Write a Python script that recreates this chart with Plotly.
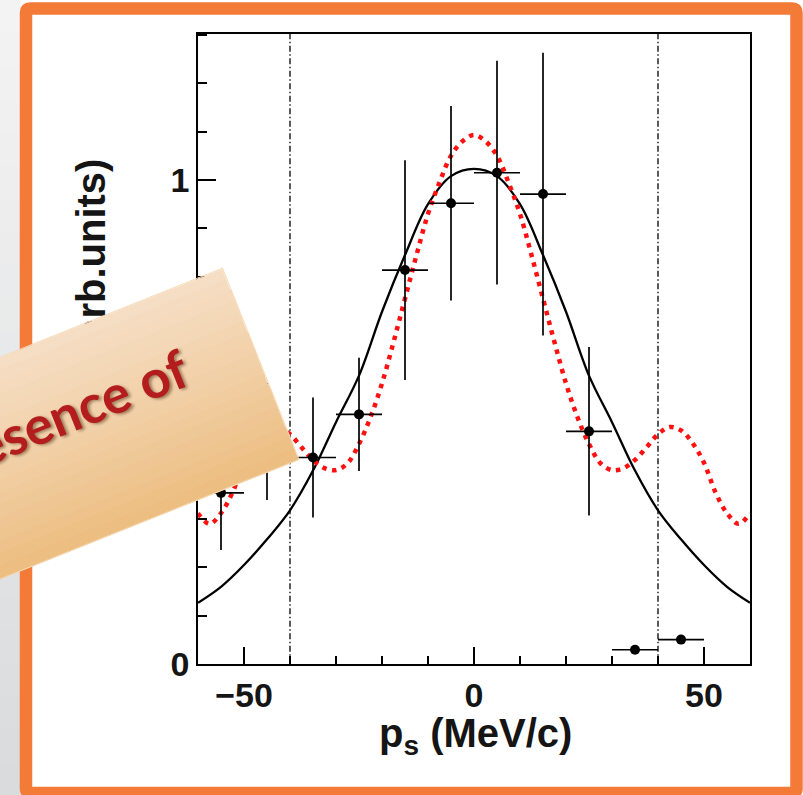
import plotly.graph_objects as go

FIG_W, FIG_H = 803, 795

# ---- data -------------------------------------------------------------
# spectator-momentum bins (MeV/c) and measured yields
p_bins = [-55, -45, -35, -25, -15, -5, 5, 15, 25, 35, 45]
yield_vals = [0.354, 0.460, 0.427, 0.516, 0.814, 0.952, 1.015, 0.971, 0.481, 0.030, 0.051]
yield_errs = [0.118, 0.121, 0.124, 0.117, 0.227, 0.201, 0.231, 0.292, 0.174, 0.0, 0.0]
bin_half_width = 5

# smooth fit (solid black)
fit_p = [-60, -55, -50, -45, -40, -35, -30, -25, -20, -15, -10, -5, 0,
         5, 10, 15, 20, 25, 30, 35, 40, 45, 50, 55, 60]
fit_vals = [0.127, 0.160, 0.205, 0.258, 0.318, 0.400, 0.500, 0.596, 0.728, 0.845, 0.950, 1.008, 1.023,
            1.008, 0.950, 0.845, 0.728, 0.596, 0.500, 0.400, 0.318, 0.258, 0.205, 0.160, 0.127]

# model calculation (red dotted)
model_p = [-60, -57.5, -55, -52.5, -50, -47.5, -45, -42.5, -40, -37.5, -35, -32.5, -30, -27.5, -25,
           -22.5, -20, -17.5, -15, -12.5, -10, -7.5, -5, -2.5, 0,
           2.5, 5, 7.5, 10, 12.5, 15, 17.5, 20, 22.5, 25, 27.5, 30, 32.5, 35, 37.5, 40,
           42.5, 45, 47.5, 50, 52.5, 55, 57.5, 60]
model_vals = [0.312, 0.290, 0.312, 0.355, 0.416, 0.457, 0.483, 0.490, 0.475, 0.448, 0.422, 0.405, 0.401,
              0.415, 0.455, 0.510, 0.580, 0.665, 0.755, 0.845, 0.930, 0.995, 1.050, 1.080, 1.093,
              1.080, 1.050, 0.995, 0.930, 0.845, 0.755, 0.665, 0.580, 0.510, 0.455, 0.415, 0.401,
              0.405, 0.422, 0.448, 0.475, 0.490, 0.483, 0.457, 0.416, 0.355, 0.312, 0.290, 0.312]

# acceptance cuts (MeV/c)
cut_edges = [-40, 40]

x_range = [-60, 60]
y_range = [0, 1.3025]


def px(x):
    return x / FIG_W


def py(y):
    return 1 - y / FIG_H


def mix(c1, c2, t):
    t = min(max(t, 0.0), 1.0)
    a = [int(c1[i:i + 2], 16) for i in (1, 3, 5)]
    b = [int(c2[i:i + 2], 16) for i in (1, 3, 5)]
    return "#" + "".join(f"{round(a[k] + (b[k] - a[k]) * t):02x}" for k in range(3))


fig = go.Figure()

for edge in cut_edges:
    fig.add_trace(go.Scatter(
        x=[edge, edge], y=y_range, mode="lines",
        line=dict(color="black", width=1.3, dash="6px,2.5px,1.5px,2.5px"),
        hoverinfo="skip", showlegend=False))

fig.add_trace(go.Scatter(
    x=fit_p, y=fit_vals, mode="lines",
    line=dict(color="black", width=2.3, shape="spline", smoothing=1.0),
    hoverinfo="skip", showlegend=False))

fig.add_trace(go.Scatter(
    x=model_p, y=model_vals, mode="lines",
    line=dict(color="#ff1010", width=4.5, dash="4.5px,5.5px", shape="spline", smoothing=1.0),
    hoverinfo="skip", showlegend=False))

fig.add_trace(go.Scatter(
    x=p_bins, y=yield_vals, mode="markers",
    marker=dict(color="black", size=10),
    error_y=dict(type="data", array=yield_errs, color="black", thickness=1.7, width=0),
    error_x=dict(type="constant", value=bin_half_width, color="black", thickness=1.7, width=0),
    hoverinfo="skip", showlegend=False))

shapes = []
# grey slide backdrop strip on the left
n_bg = 24
for i in range(n_bg):
    y0 = FIG_H * i / n_bg
    y1 = FIG_H * (i + 1) / n_bg + 1
    shapes.append(dict(type="rect", xref="paper", yref="paper", layer="below",
                       x0=px(0), x1=px(20.5), y0=py(y1), y1=py(y0),
                       fillcolor=mix("#f4f4f4", "#d9dadc", (i + 0.5) / n_bg), line_width=0))

# orange rounded frame
fx0, fx1, fy0, fy1, r = 26, 796.5, 8.5, 793, 4
frame_pts = [
    ("M", fx0 + r, fy0), ("L", fx1 - r, fy0), ("Q", fx1, fy0, fx1, fy0 + r),
    ("L", fx1, fy1 - r), ("Q", fx1, fy1, fx1 - r, fy1), ("L", fx0 + r, fy1),
    ("Q", fx0, fy1, fx0, fy1 - r), ("L", fx0, fy0 + r), ("Q", fx0, fy0, fx0 + r, fy0)]
path = ""
for seg in frame_pts:
    cmd, coords = seg[0], seg[1:]
    pts = [f"{px(coords[k]):.5f},{py(coords[k + 1]):.5f}" for k in range(0, len(coords), 2)]
    path += cmd + " " + " ".join(pts) + " "
shapes.append(dict(type="path", path=path + "Z", xref="paper", yref="paper", layer="below",
                   line=dict(color="#f47a38", width=12.5), fillcolor="rgba(0,0,0,0)"))

annotations = []
tick_font = dict(family="Liberation Sans, Arial, sans-serif", size=34, color="#151515", weight="bold")
title_font = dict(family="Liberation Sans, Arial, sans-serif", size=40, color="#151515", weight="bold")

# y-axis title (sits beneath the callout box)
annotations.append(dict(text="Counts (arb.units)", textangle=-90, xref="paper", yref="paper",
                        x=px(91), y=py(157), xanchor="center", yanchor="top", showarrow=False,
                        font=title_font))
# x-axis title
annotations.append(dict(text="p<sub>s</sub> (MeV/c)", xref="paper", yref="paper",
                        x=px(475), y=py(709), xanchor="center", yanchor="top", showarrow=False,
                        font=title_font))

# callout box: rotated rectangle with a soft peach gradient
ang = -21.8
ux, uy = 0.9285, -0.3714   # along the long side
vx, vy = 0.3714, 0.9285    # across the box, top to bottom
box_len, box_w = 520, 204.5
mx, my = 260.5, 364.3      # middle of the right-hand edge
cx, cy = mx - ux * box_len / 2, my - uy * box_len / 2
n_band = 18
for k in range(n_band):
    t = (k + 0.5) / n_band
    off = -box_w / 2 + t * box_w
    col = mix("#f6dfc6", "#f1cda2", t / 0.55) if t < 0.55 else mix("#f1cda2", "#ecbd80", (t - 0.55) / 0.45)
    bx, by = cx + vx * off, cy + vy * off
    annotations.append(dict(text="&nbsp;", textangle=ang, xref="paper", yref="paper",
                            x=px(bx), y=py(by), xanchor="center", yanchor="middle",
                            width=box_len, height=box_w / n_band + 1.6, borderpad=0, borderwidth=0,
                            bgcolor=col, showarrow=False, font=dict(size=6)))
annotations.append(dict(text="&nbsp;", textangle=ang, xref="paper", yref="paper",
                        x=px(cx), y=py(cy), xanchor="center", yanchor="middle",
                        width=box_len, height=box_w, borderpad=0, borderwidth=1,
                        bordercolor="#f7dab6", bgcolor="rgba(0,0,0,0)", showarrow=False,
                        font=dict(size=6)))
annotations.append(dict(text="Presence of", textangle=ang, xref="paper", yref="paper",
                        x=px(56), y=py(416), xanchor="center", yanchor="middle", showarrow=False,
                        font=dict(family="Lato, Open Sans, sans-serif", size=53, color="#b41d1d",
                                  weight="bold", shadow="2px 2px 3px rgba(60,30,0,0.45)")))

axis_common = dict(showline=True, linecolor="black", linewidth=1.5, mirror=True,
                   ticks="inside", tickcolor="black", tickwidth=1.5, ticklen=18,
                   showgrid=False, zeroline=False, tickfont=tick_font, automargin=False)

fig.update_layout(
    width=FIG_W, height=FIG_H, autosize=False, margin=dict(l=0, r=0, t=0, b=0, autoexpand=False),
    paper_bgcolor="white", plot_bgcolor="white", showlegend=False,
    xaxis=dict(range=x_range, domain=[px(198), px(750)], dtick=50, tick0=0,
               minor=dict(dtick=10, ticklen=9, tickwidth=1.5, tickcolor="black", ticks="inside"),
               **axis_common),
    yaxis=dict(range=y_range, domain=[py(664.3), py(33.5)], dtick=0.5, tick0=0,
               minor=dict(dtick=0.1, ticklen=9, tickwidth=1.5, tickcolor="black", ticks="inside"),
               **axis_common),
    shapes=shapes, annotations=annotations,
)

fig.write_html("out.html")
